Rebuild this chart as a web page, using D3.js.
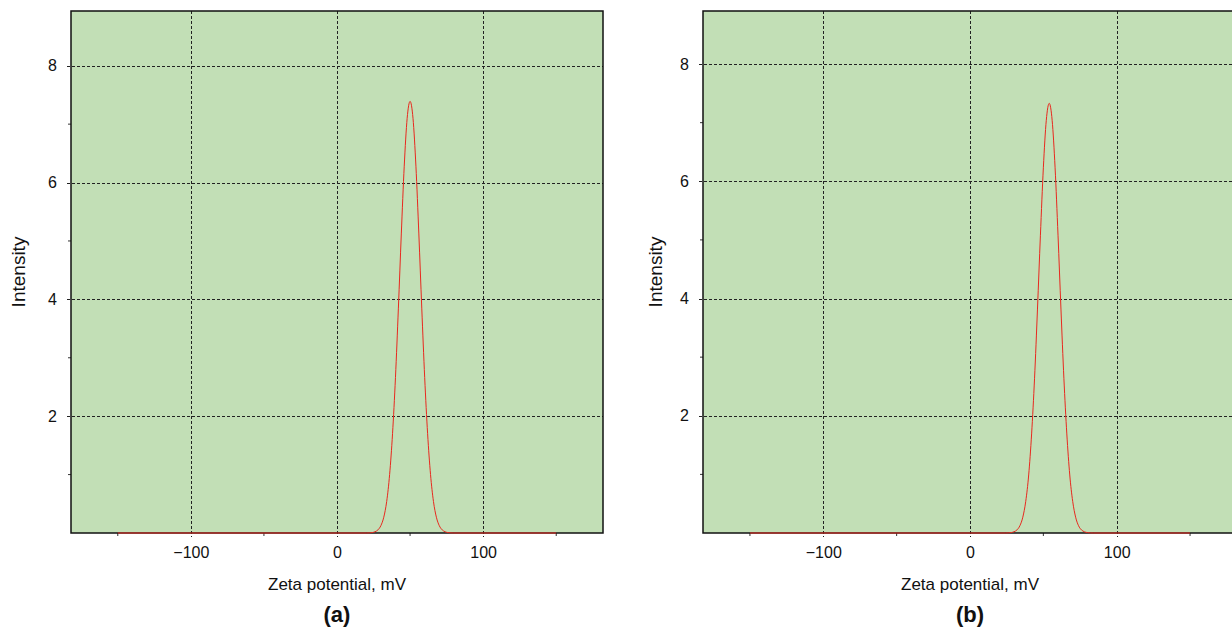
<!DOCTYPE html>
<html>
<head>
<meta charset="utf-8">
<script src="https://cdn.jsdelivr.net/npm/d3@7"></script>
<style>
  html, body { margin: 0; padding: 0; background: #fff; }
  svg { display: block; font-family: "Liberation Sans", Arial, sans-serif; }
</style>
</head>
<body>
<svg id="chart" width="1232" height="634"></svg>
<script>
// ---- data ----
const panelLabels = ["(a)", "(b)"];
const xAxisTitle = "Zeta potential, mV";
const yAxisTitle = "Intensity";
const xMajorTicks = [-100, 0, 100];
const xMinorTicks = [-150, -50, 50, 150];
const yMajorTicks = [2, 4, 6, 8];
const yMinorTicks = [1, 3, 5, 7];

// panel (a): zeta potential (mV) and intensity
const zetaA = [-150, 20, 24, 26, 28, 30, 32, 34, 36, 38, 40, 42, 44, 46, 48, 50,
               52, 54, 56, 58, 60, 62, 64, 66, 68, 70, 72, 74, 76, 80, 150];
const intensityA = [0, 0, 0.007, 0.021, 0.053, 0.125, 0.27, 0.54, 1.00, 1.70, 2.66, 3.85, 5.12, 6.28, 7.10, 7.39,
                    7.10, 6.28, 5.12, 3.85, 2.66, 1.70, 1.00, 0.54, 0.27, 0.125, 0.053, 0.021, 0.007, 0, 0];

// panel (b)
const zetaB = [-150, 24, 28, 30, 32, 34, 36, 38, 40, 42, 44, 46, 48, 50, 52, 54,
               56, 58, 60, 62, 64, 66, 68, 70, 72, 74, 76, 78, 80, 84, 150];
const intensityB = [0, 0, 0.007, 0.021, 0.052, 0.124, 0.27, 0.54, 0.99, 1.69, 2.64, 3.82, 5.08, 6.23, 7.04, 7.33,
                    7.04, 6.23, 5.08, 3.82, 2.64, 1.69, 0.99, 0.54, 0.27, 0.124, 0.052, 0.021, 0.007, 0, 0];

const xDomain = [-182, 182];

const svg = d3.select("#chart");

function drawPanel(opts) {
  const { left, right, top, bottom, yMax, xs, ys, label, yTitleX } = opts;
  const x = d3.scaleLinear().domain(xDomain).range([left, right]);
  const y = d3.scaleLinear().domain([0, yMax]).range([bottom, top]);
  const g = svg.append("g");

  // background
  g.append("rect").attr("x", left).attr("y", top)
    .attr("width", right - left).attr("height", bottom - top)
    .attr("fill", "#c2dfb6");

  // grid lines (dashed)
  g.append("g").selectAll("line.vx").data(xMajorTicks).join("line")
    .attr("x1", d => Math.round(x(d)) + 0.5).attr("x2", d => Math.round(x(d)) + 0.5)
    .attr("y1", top).attr("y2", bottom + 4)
    .attr("stroke", "#222").attr("stroke-width", 1).attr("stroke-dasharray", "3,2");
  g.append("g").selectAll("line.hy").data(yMajorTicks).join("line")
    .attr("y1", d => Math.round(y(d)) + 0.5).attr("y2", d => Math.round(y(d)) + 0.5)
    .attr("x1", left - 4).attr("x2", right)
    .attr("stroke", "#222").attr("stroke-width", 1).attr("stroke-dasharray", "3,2");

  // axes via d3 axis generators (labels only for major ticks)
  const xAxis = d3.axisBottom(x).tickValues(xMajorTicks).tickSize(0).tickPadding(14)
    .tickFormat(d => d < 0 ? "\u2212" + Math.abs(d) : String(d));
  const gx = g.append("g").attr("transform", `translate(0,${bottom})`).call(xAxis);
  gx.select(".domain").remove();
  gx.selectAll("text").attr("font-size", 16).attr("fill", "#111")
    .attr("font-family", "Liberation Sans, Arial, sans-serif");

  const yAxis = d3.axisLeft(y).tickValues(yMajorTicks).tickSize(0).tickPadding(14)
    .tickFormat(d3.format("d"));
  const gy = g.append("g").attr("transform", `translate(${left},0)`).call(yAxis);
  gy.select(".domain").remove();
  gy.selectAll("text").attr("font-size", 16).attr("fill", "#111")
    .attr("font-family", "Liberation Sans, Arial, sans-serif");

  // minor ticks
  g.append("g").selectAll("line").data(xMinorTicks).join("line")
    .attr("x1", d => x(d)).attr("x2", d => x(d))
    .attr("y1", bottom).attr("y2", bottom + 3)
    .attr("stroke", "#333").attr("stroke-width", 1);
  g.append("g").selectAll("line").data(yMinorTicks).join("line")
    .attr("y1", d => y(d)).attr("y2", d => y(d))
    .attr("x1", left - 3).attr("x2", left)
    .attr("stroke", "#333").attr("stroke-width", 1);

  // frame
  g.append("rect").attr("x", left).attr("y", top)
    .attr("width", right - left).attr("height", bottom - top)
    .attr("fill", "none").attr("stroke", "#111").attr("stroke-width", 1.5);

  // data line
  const pts = xs.map((v, i) => [v, ys[i]]);
  const line = d3.line().x(d => x(d[0])).y(d => y(d[1])).curve(d3.curveMonotoneX);
  g.append("path").datum(pts).attr("d", line)
    .attr("fill", "none").attr("stroke", "#e8281e").attr("stroke-width", 1)
    .attr("stroke-linejoin", "round");

  // titles
  const cx = x(0);
  g.append("text").attr("x", cx).attr("y", 590).attr("text-anchor", "middle")
    .attr("font-size", 17).attr("fill", "#111").text(xAxisTitle);
  g.append("text").attr("x", cx).attr("y", 622).attr("text-anchor", "middle")
    .attr("font-size", 22).attr("font-weight", "bold").attr("fill", "#111").text(label);
  g.append("text")
    .attr("transform", `translate(${yTitleX},${(top + bottom) / 2}) rotate(-90)`)
    .attr("text-anchor", "middle").attr("font-size", 19).attr("fill", "#111").text(yAxisTitle);
}

drawPanel({ left: 71, right: 603, top: 11, bottom: 533, yMax: 8.937, xs: zetaA, ys: intensityA, label: panelLabels[0], yTitleX: 25 });
drawPanel({ left: 703, right: 1237, top: 11, bottom: 533, yMax: 8.905, xs: zetaB, ys: intensityB, label: panelLabels[1], yTitleX: 662 });
</script>
</body>
</html>
